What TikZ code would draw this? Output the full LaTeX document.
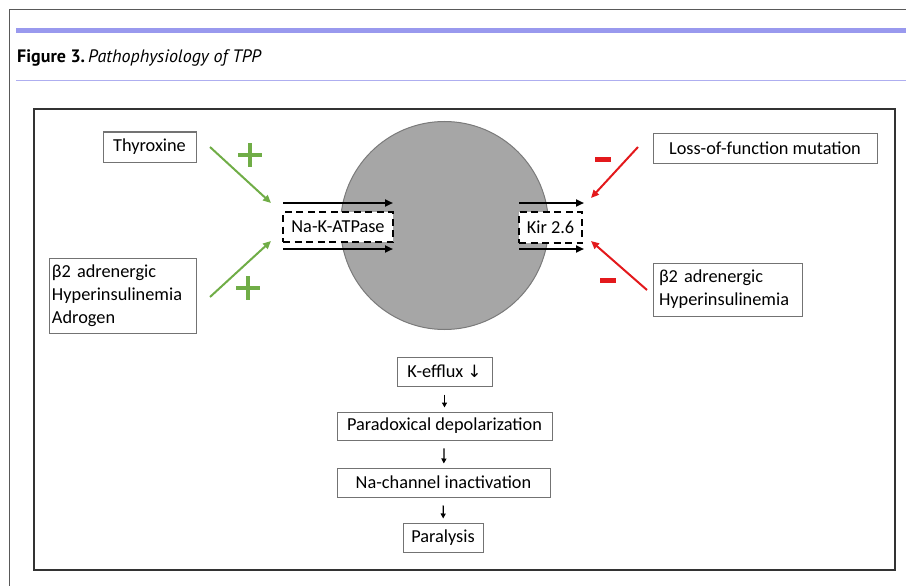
\documentclass[tikz,border=0pt]{standalone}
\usepackage{fontspec}
\setmainfont{Carlito}
\newfontfamily\titlefont{PT Sans}
\newfontfamily\symfont{DejaVu Sans}
\usetikzlibrary{arrows.meta}
\definecolor{barblue}{HTML}{9999EE}
\definecolor{lineblue}{HTML}{AEAEF0}
\definecolor{cellgray}{HTML}{A6A6A6}
\definecolor{cellrim}{HTML}{7A7A7A}
\definecolor{posgreen}{HTML}{70AD47}
\definecolor{negred}{HTML}{E3191C}
\begin{document}
\begin{tikzpicture}[x=1pt,y=-1pt,
  box/.style={draw=black!55, line width=1pt, fill=white, inner sep=0pt,
    font=\fontsize{18.3}{23}\selectfont},
  dbox/.style={draw=black, line width=1.8pt, dash pattern=on 7pt off 4.5pt,
    fill=white, inner sep=0pt, font=\fontsize{18.3}{20}\selectfont},
  flux/.style={draw=black, line width=2.2pt, -{Triangle[length=8pt,width=7pt]}},
  chain/.style={draw=black, line width=1.3pt, -{Triangle[length=5pt,width=5pt]}},
  garrow/.style={draw=posgreen, line width=2pt, -{Triangle[length=8pt,width=7pt]}},
  rarrow/.style={draw=negred, line width=2pt, -{Triangle[length=8pt,width=7pt]}},
  plussign/.style={draw=posgreen, line width=4.5pt},
  minussign/.style={fill=negred, draw=none}
]
\useasboundingbox (0,0) rectangle (906,586);
% page frame and header
\draw[black!65, line width=1pt] (9,586) -- (9,10) -- (906,10);
\fill[barblue] (16,28) rectangle (906,33);
\draw[lineblue, line width=1pt] (16,81) -- (906,81);
\node[anchor=base west, inner sep=0pt, font=\titlefont\fontsize{18}{20}\selectfont] (title) at (17,63)
  {\textbf{Figure 3.}\,\textit{Pathophysiology of TPP}};
% inner frame
\draw[black!80, line width=2pt] (34,109) rectangle (895,570);
% cell
\draw[cellrim, fill=cellgray, line width=1pt] (444.5,225.5) circle (104);
% channels
\node[dbox, minimum width=110, minimum height=30] (nak) at (338,227) {Na-K-ATPase};
\node[dbox, minimum width=63, minimum height=31] (kir) at (550.5,227.5) {Kir 2.6};
\coordinate (naka1) at (283,203); \coordinate (nakb1) at (393,203);
\coordinate (naka2) at (283,249); \coordinate (nakb2) at (393,249);
\coordinate (kira1) at (519,203); \coordinate (kirb1) at (584,203);
\coordinate (kira2) at (519,249); \coordinate (kirb2) at (584,249);
\draw[flux] (naka1) -- (nakb1);
\draw[flux] (naka2) -- (nakb2);
\draw[flux] (kira1) -- (kirb1);
\draw[flux] (kira2) -- (kirb2);
% left regulators
\node[box, minimum width=93, minimum height=30] (thy) at (149.5,147) {Thyroxine};
\node[box, minimum width=147, minimum height=75, text width=141pt, align=left] (beta) at (122.5,295.5)
  {β2 adrenergic\\Hyperinsulinemia\\Adrogen};
% right regulators
\node[box, minimum width=224, minimum height=30] (lof) at (765,148) {Loss-of-function mutation};
\node[box, minimum width=149, minimum height=53, text width=137pt, align=left] (betar) at (727.5,289.5)
  {β2 adrenergic\\Hyperinsulinemia};
% green activation arrows
\coordinate (g1s) at (210,147); \coordinate (g1e) at (271,203);
\coordinate (g2s) at (210,297); \coordinate (g2e) at (271,241);
\draw[garrow] (g1s) -- (g1e);
\draw[garrow] (g2s) -- (g2e);
\draw[plussign] (238,155) -- (262,155) (250,143) -- (250,167);
\draw[plussign] (236,288) -- (260,288) (248,276) -- (248,300);
% red inhibition arrows
\coordinate (r1s) at (638,147); \coordinate (r1e) at (591,198);
\coordinate (r2s) at (647,290); \coordinate (r2e) at (591,241);
\draw[rarrow] (r1s) -- (r1e);
\draw[rarrow] (r2s) -- (r2e);
\fill[minussign] (595,156.5) rectangle (611,161.5);
\fill[minussign] (600,277.5) rectangle (616,282.5);
% downstream chain
\node[box, minimum width=95, minimum height=29] (kef) at (444.5,371.5)
  {K-efflux {\symfont\fontsize{17}{18}\selectfont ↓}};
\node[box, minimum width=215, minimum height=28] (para) at (444.5,426) {Paradoxical depolarization};
\node[box, minimum width=213, minimum height=29] (nach) at (443.5,482.5) {Na-channel inactivation};
\node[box, minimum width=80, minimum height=29] (paral) at (443,537.5) {Paralysis};
\draw[chain, shorten <=8pt, shorten >=4pt] (kef) -- (para);
\draw[chain, shorten <=8pt, shorten >=4pt] (para) -- (nach);
\draw[chain, shorten <=8pt, shorten >=4pt] (nach) -- (paral);
\end{tikzpicture}
\end{document}
